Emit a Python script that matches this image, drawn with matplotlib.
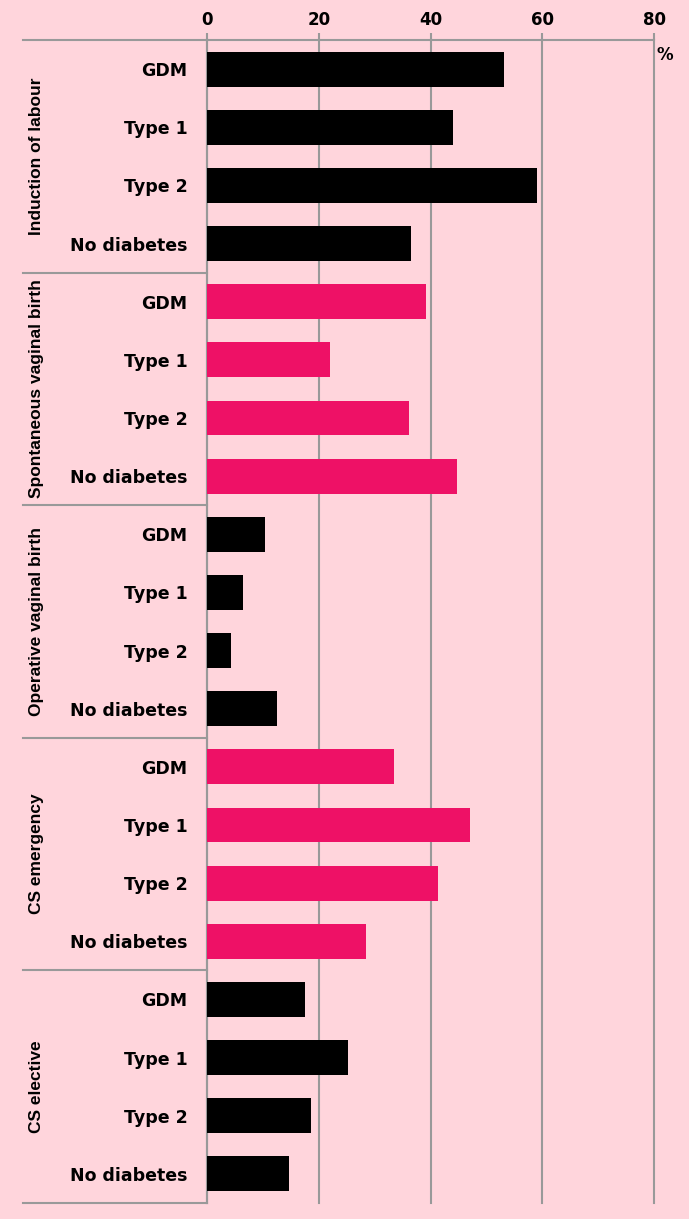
import numpy as np
import matplotlib.pyplot as plt
from matplotlib.transforms import blended_transform_factory

groups = ['Induction of labour', 'Spontaneous vaginal birth', 'Operative vaginal birth',
          'CS emergency', 'CS elective']
categories = ['GDM', 'Type 1', 'Type 2', 'No diabetes']
induction = [53.2, 44.0, 59.1, 36.5]
spontaneous = [39.2, 22.0, 36.2, 44.7]
operative = [10.4, 6.4, 4.3, 12.5]
cs_emergency = [33.5, 47.1, 41.3, 28.5]
cs_elective = [17.5, 25.2, 18.6, 14.7]
xticks = [0, 20, 40, 60, 80]

bg = '#ffd5dc'
pink = '#ee1166'
grid_c = '#999999'
group_colors = ['black', pink, 'black', pink, 'black']

fig = plt.figure(figsize=(6.89, 12.19), dpi=100, facecolor=bg)
ax = fig.add_axes([207 / 689, 1 - 1203 / 1219, 447 / 689, 1163 / 1219])
ax.set_facecolor(bg)

all_vals = [induction, spontaneous, operative, cs_emergency, cs_elective]
n = len(categories)
for gi, vals in enumerate(all_vals):
    ypos = np.arange(n) + gi * n
    ax.barh(ypos, vals, height=0.6, color=group_colors[gi], zorder=3)

ax.set_xlim(0, 80)
ax.set_ylim(len(groups) * n - 0.5, -0.5)
ax.set_yticks(np.arange(len(groups) * n))
ax.set_yticklabels(categories * len(groups), fontweight='bold', fontsize=12.5,
                   family='DejaVu Sans')
ax.tick_params(axis='y', length=0, pad=14)

ax.xaxis.tick_top()
ax.set_xticks(xticks)
ax.set_xticklabels([str(t) for t in xticks], fontweight='bold', fontsize=12,
                   family='DejaVu Sans')
ax.tick_params(axis='x', length=5, width=1.5, color=grid_c, pad=3)
ax.grid(axis='x', color=grid_c, linewidth=1.5, zorder=1)
for line in ax.get_xgridlines():
    line.set_clip_on(False)

for s in ['right', 'bottom']:
    ax.spines[s].set_visible(False)
ax.spines['left'].set_color(grid_c)
ax.spines['left'].set_linewidth(1.5)
ax.spines['top'].set_color(grid_c)
ax.spines['top'].set_linewidth(1.5)

# group separators and rotated group names on the left
trans = blended_transform_factory(ax.transAxes, ax.transData)
x_left = -(207 - 23) / 447
for gi in range(len(groups) + 1):
    yb = gi * n - 0.5
    ax.plot([x_left, 0], [yb, yb], color=grid_c, lw=1.5, transform=trans, clip_on=False)
for gi, name in enumerate(groups):
    yc = gi * n + (n - 1) / 2
    ax.text(-(207 - 37) / 447, yc, name, rotation=90, ha='center', va='center',
            fontsize=12.5, fontweight='bold',
            family=['Liberation Sans Narrow', 'Liberation Sans'],
            transform=trans)

ax.text(1 + 11 / 447, 1 - 15 / 1163, '%', transform=ax.transAxes, ha='center',
        va='center', fontweight='bold', fontsize=12, family='DejaVu Sans')

fig.savefig('out.png', dpi=100, facecolor=bg)
